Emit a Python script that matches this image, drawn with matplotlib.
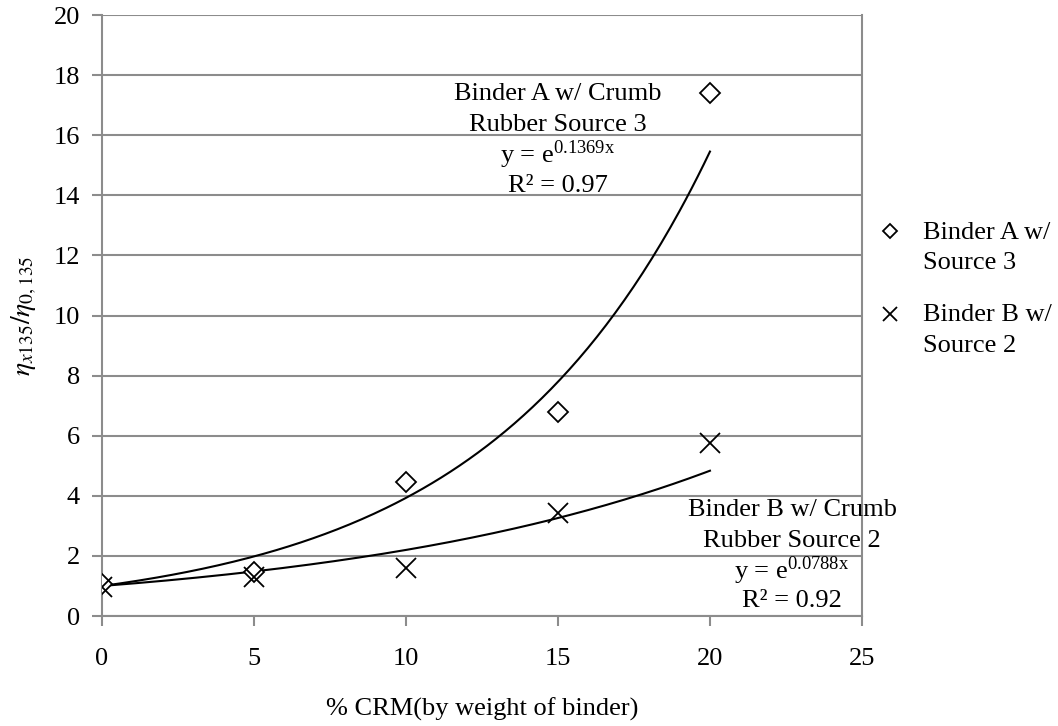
import numpy as np
import matplotlib
matplotlib.use("Agg")
import matplotlib.pyplot as plt

plt.rcParams['font.family'] = ['Liberation Serif', 'DejaVu Serif']
plt.rcParams['mathtext.fontset'] = 'stix'

# data
crm = [0, 5, 10, 15, 20]
binder_a = [1.08, 1.47, 4.47, 6.8, 17.4]
binder_b = [0.98, 1.29, 1.59, 3.44, 5.75]

# exponential trendline coefficients (from the labels)
k_a = 0.1369
k_b = 0.0788

grid_col = '#8c8c8c'
fs = 19

fig = plt.figure(figsize=(10.58, 7.26), dpi=100)
ax = fig.add_axes([0.0964, 0.1515, 0.7183, 0.8278])

xs = np.linspace(0, 20, 200)
ax.plot(xs, np.exp(k_a * xs), color='black', lw=1.5, zorder=3)
ax.plot(xs, np.exp(k_b * xs), color='black', lw=1.5, zorder=3)

ax.plot(crm, binder_a, linestyle='none', marker='D', ms=10.5, mfc='white',
        mec='black', mew=1.3, label='Binder A w/\nSource 3', zorder=4)
ax.plot(crm, binder_b, linestyle='none', marker='x', ms=15, color='black',
        mew=1.3, label='Binder B w/\nSource 2', zorder=5)

ax.set_xlim(0, 25)
ax.set_ylim(0, 20)
ax.set_xticks(range(0, 26, 5))
ax.set_yticks(range(0, 21, 2))
ax.yaxis.grid(True, color=grid_col, lw=1.5)
ax.set_axisbelow(True)
for s in ['left', 'bottom', 'right']:
    ax.spines[s].set_color(grid_col)
    ax.spines[s].set_linewidth(1.5)
ax.spines['top'].set_visible(False)
ax.tick_params(colors=grid_col, length=7, width=1.5, labelsize=fs,
               labelcolor='black', pad=9)
ax.tick_params(axis='x', pad=16)

ax.set_xlabel('% CRM(by weight of binder)', fontsize=fs, labelpad=20)
ax.set_ylabel(r'$\mathit{\eta_{x135}/\eta_{0,135}}$', fontsize=20, labelpad=10)

# trendline labels
ax.text(15.0, 17.17, 'Binder A w/ Crumb', ha='center', va='baseline', fontsize=fs)
ax.text(15.0, 16.14, 'Rubber Source 3', ha='center', va='baseline', fontsize=fs)
ax.text(15.0, 15.07, r'y = e$^{\mathregular{0.1369x}}$', ha='center', va='baseline', fontsize=fs)
ax.text(15.0, 14.11, 'R² = 0.97', ha='center', va='baseline', fontsize=fs)

ax.text(22.7, 3.33, 'Binder B w/ Crumb', ha='center', va='baseline', fontsize=fs)
ax.text(22.7, 2.31, 'Rubber Source 2', ha='center', va='baseline', fontsize=fs)
ax.text(22.7, 1.25, r'y = e$^{\mathregular{0.0788x}}$', ha='center', va='baseline', fontsize=fs)
ax.text(22.7, 0.29, 'R² = 0.92', ha='center', va='baseline', fontsize=fs)

leg = ax.legend(loc='upper left', bbox_to_anchor=(1.005, 0.674), borderaxespad=0,
                frameon=False, fontsize=fs, handlelength=1.0, handletextpad=0.76,
                labelspacing=1.15, markerscale=0.7)
for t in leg.get_texts():
    t.set_linespacing(1.5)
# put the legend marker next to the first line of its label
for h in leg.legend_handles:
    h.set_ydata(np.asarray(h.get_ydata()) + 11.5)

fig.savefig('out.png', dpi=100)
